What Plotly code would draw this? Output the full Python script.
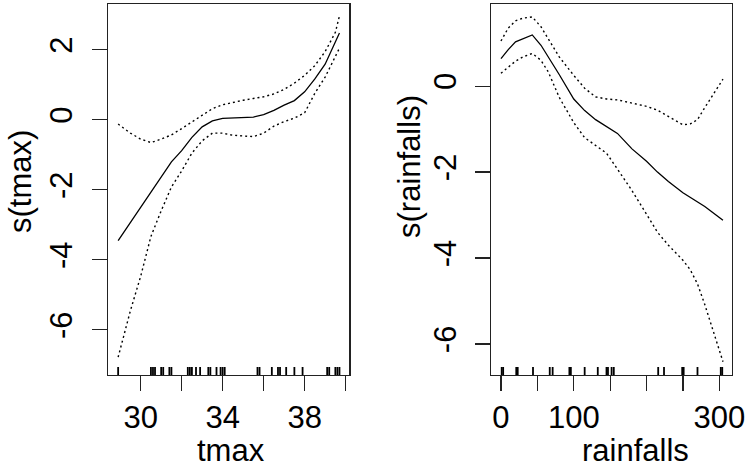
import plotly.graph_objects as go

# ---- left panel: s(tmax) ----
tmax_x = [28.9, 29.5, 30.0, 30.5, 31.0, 31.5, 32.0, 32.5, 33.0, 33.5, 34.0, 34.5,
          35.0, 35.5, 36.0, 36.5, 37.0, 37.5, 38.0, 38.5, 39.0, 39.5, 39.7]
tmax_fit = [-3.45, -2.93, -2.50, -2.07, -1.62, -1.20, -0.88, -0.50, -0.20, -0.03, 0.04, 0.06,
            0.07, 0.08, 0.15, 0.27, 0.42, 0.55, 0.80, 1.17, 1.59, 2.20, 2.48]
tmax_upper = [-0.12, -0.38, -0.55, -0.65, -0.55, -0.43, -0.25, -0.06, 0.12, 0.32, 0.43, 0.50,
              0.56, 0.61, 0.66, 0.74, 0.87, 1.05, 1.27, 1.55, 1.95, 2.50, 2.97]
tmax_lower = [-6.78, -5.45, -4.47, -3.33, -2.60, -1.92, -1.46, -0.95, -0.60, -0.38, -0.38, -0.44,
              -0.46, -0.48, -0.38, -0.18, -0.05, 0.05, 0.20, 0.76, 1.22, 1.80, 2.05]
tmax_rug = [28.9, 30.5, 30.6, 30.7, 31.0, 31.1, 31.4, 31.5, 32.3, 32.4, 32.5, 32.7, 32.9,
            33.3, 33.4, 33.7, 33.9, 34.0, 34.1, 35.7, 35.8, 36.4, 36.7, 36.8, 37.1, 37.5,
            37.9, 39.1, 39.2, 39.5, 39.6, 39.7]
tmax_ticks = [30, 32, 34, 36, 38, 40]
tmax_ticktext = ["30", "", "34", "", "38", ""]
tmax_yticks = [2, 0, -2, -4, -6]

# ---- right panel: s(rainfalls) ----
rain_x = [0, 10, 20, 30, 43, 55, 65, 80, 100, 115, 130, 145, 160, 180, 200, 215, 230,
          250, 260, 270, 280, 290, 305]
rain_fit = [0.64, 0.85, 1.03, 1.10, 1.19, 0.95, 0.68, 0.27, -0.30, -0.57, -0.78, -0.93,
            -1.10, -1.46, -1.75, -2.00, -2.22, -2.48, -2.58, -2.68, -2.80, -2.93, -3.12]
rain_upper = [1.05, 1.35, 1.52, 1.58, 1.61, 1.38, 1.10, 0.68, 0.25, -0.05, -0.25, -0.30,
              -0.32, -0.40, -0.47, -0.56, -0.70, -0.90, -0.88, -0.78, -0.50, -0.24, 0.16]
rain_lower = [0.30, 0.45, 0.58, 0.68, 0.76, 0.60, 0.33, -0.26, -0.85, -1.20, -1.37, -1.56,
              -1.93, -2.43, -2.98, -3.40, -3.70, -4.05, -4.27, -4.60, -5.08, -5.60, -6.41]
rain_rug = [1, 3, 21, 23, 44, 67, 71, 94, 96, 115, 133, 145, 147, 152, 155, 216, 224,
            249, 251, 270, 302, 304]
rain_ticks = [0, 50, 100, 150, 200, 250, 300]
rain_ticktext = ["0", "", "100", "", "", "", "300"]
rain_yticks = [0, -2, -4, -6]

LX = [28.42, 40.18]
LY = [-7.29, 3.31]
RX = [-13.7, 317.0]
RY = [-6.72, 1.91]

FONT = "Liberation Sans, Arial, Helvetica, sans-serif"
FS = 31

fig = go.Figure()

def add_panel(xs, fit, up, lo, rug, xa, ya, yrange, rug_h):
    fig.add_trace(go.Scatter(x=xs, y=fit, mode="lines", xaxis=xa, yaxis=ya,
                             line=dict(color="black", width=1.3)))
    for band in (up, lo):
        fig.add_trace(go.Scatter(x=xs, y=band, mode="lines", xaxis=xa, yaxis=ya,
                                 line=dict(color="black", width=1.4, dash="2px,3px")))
    rx, ry = [], []
    for v in rug:
        rx += [v, v, None]
        ry += [yrange[0], yrange[0] + rug_h, None]
    fig.add_trace(go.Scatter(x=rx, y=ry, mode="lines", xaxis=xa, yaxis=ya,
                             line=dict(color="black", width=1.8)))

add_panel(tmax_x, tmax_fit, tmax_upper, tmax_lower, tmax_rug, "x", "y", LY, 8 / 35)
add_panel(rain_x, rain_fit, rain_upper, rain_lower, rain_rug, "x2", "y2", RY, 8 / 43)

axis_common = dict(showline=True, mirror=True, linecolor="#222", linewidth=1.2,
                   ticks="outside", ticklen=15, tickwidth=1.2, tickcolor="#222",
                   showgrid=False, zeroline=False,
                   tickfont=dict(family=FONT, size=FS, color="black"))

H = 468
W = 756
ydom = [1 - 375 / H, 1 - 4 / H]

fig.update_layout(
    width=W, height=H, showlegend=False,
    margin=dict(l=0, r=0, t=0, b=0, autoexpand=False),
    paper_bgcolor="white", plot_bgcolor="white",
    xaxis=dict(domain=[108.3 / W, 349.3 / W], range=LX, tickmode="array",
               tickvals=tmax_ticks, ticktext=tmax_ticktext, anchor="y",
               ticklabelstandoff=0, **axis_common),
    yaxis=dict(domain=ydom, range=LY, tickmode="array", tickvals=tmax_yticks,
               ticktext=[str(v) for v in tmax_yticks], tickangle=-90, anchor="x",
               ticklabelstandoff=8, **axis_common),
    xaxis2=dict(domain=[491 / W, 731.7 / W], range=RX, tickmode="array",
                tickvals=rain_ticks, ticktext=rain_ticktext, anchor="y2",
                ticklabelstandoff=0, **axis_common),
    yaxis2=dict(domain=ydom, range=RY, tickmode="array", tickvals=rain_yticks,
                ticktext=[str(v) for v in rain_yticks], tickangle=-90, anchor="x2",
                ticklabelstandoff=6, **axis_common),
    hovermode=False,
)

title_font = dict(family=FONT, size=FS, color="black")
fig.add_annotation(text="tmax", x=231 / W, y=1 - 450 / H, xref="paper", yref="paper",
                   showarrow=False, xanchor="center", yanchor="middle", font=title_font)
fig.add_annotation(text="rainfalls", x=635 / W, y=1 - 450 / H, xref="paper", yref="paper",
                   showarrow=False, xanchor="center", yanchor="middle", font=title_font)
fig.add_annotation(text="s(tmax)", x=20.5 / W, y=1 - 181.5 / H, xref="paper", yref="paper",
                   showarrow=False, xanchor="center", yanchor="middle", textangle=-90,
                   font=title_font)
fig.add_annotation(text="s(rainfalls)", x=409 / W, y=1 - 167 / H, xref="paper", yref="paper",
                   showarrow=False, xanchor="center", yanchor="middle", textangle=-90,
                   font=title_font)

fig.write_html("out.html", config={"displayModeBar": False, "staticPlot": True},
               post_script="document.body.style.margin='0';document.body.style.padding='0';")
